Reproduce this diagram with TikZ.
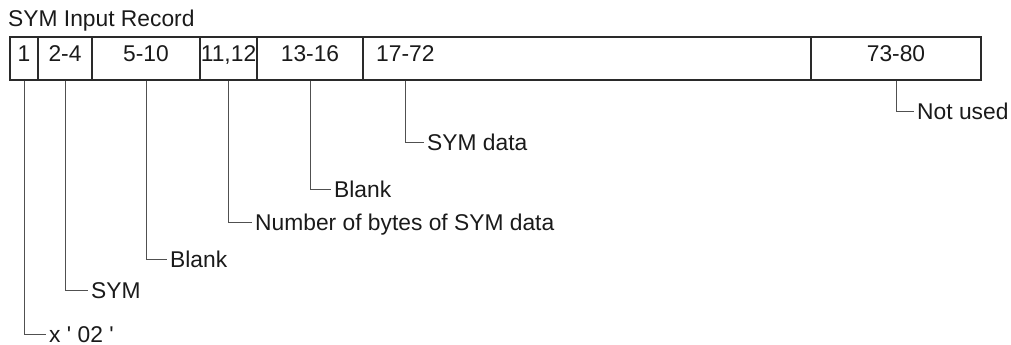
\documentclass[tikz,border=0pt]{standalone}
\usepackage{fontspec}
\setmainfont{Liberation Sans}[Ligatures=TeXOff]
\definecolor{boxc}{HTML}{2A2A2A}
\definecolor{leadc}{HTML}{505050}
\definecolor{txtc}{HTML}{1A1A1A}
\begin{document}
\begin{tikzpicture}[x=1pt,y=-1pt,
  txt/.style={text=txtc, font=\fontsize{22.8}{24}\selectfont},
  cell/.style={txt, draw=boxc, line width=1.2pt, minimum height=43pt, inner sep=0pt, text height=15pt, text depth=10pt},
  lab/.style={txt, anchor=west, inner xsep=3pt, inner ysep=0pt, text height=16pt, text depth=0pt},
  lead/.style={draw=leadc, line width=0.9pt}]
\useasboundingbox (0,0) rectangle (1011,345);
\node[txt, anchor=base west, inner sep=0pt] (title) at (8,27) {SYM Input Record};
% cells
\node[cell, minimum width=28pt]  (c1) at (24,58.5)  {1};
\node[cell, minimum width=54pt]  (c2) at (65,58.5)  {2-4};
\node[cell, minimum width=108pt] (c3) at (146,58.5) {5-10};
\node[cell, minimum width=57pt]  (c4) at (228.5,58.5) {11,12};
\node[cell, minimum width=106pt] (c5) at (310,58.5) {13-16};
\node[cell, minimum width=448pt] (c6) at (587,58.5) {};
\node[cell, minimum width=170pt] (c7) at (896,58.5) {73-80};
\node[txt, anchor=base west, inner sep=0pt] (t6) at (376,61) {17-72};
% labels
\node[lab] (l1) at (46,334)  {x ' 02 '};
\node[lab] (l2) at (88,290)  {SYM};
\node[lab] (l3) at (167,259) {Blank};
\node[lab] (l4) at (252,222) {Number of bytes of SYM data};
\node[lab] (l5) at (331,189) {Blank};
\node[lab] (l6) at (424,142) {SYM data};
\node[lab] (l7) at (914,111) {Not used};
% leaders
\draw[lead] (c1.south) |- (l1.west);
\draw[lead] (c2.south) |- (l2.west);
\draw[lead] (c3.south) |- (l3.west);
\draw[lead] (c4.south) |- (l4.west);
\draw[lead] (c5.south) |- (l5.west);
\draw[lead] (c6.south -| t6.south) |- (l6.west);
\draw[lead] (c7.south) |- (l7.west);
\end{tikzpicture}
\end{document}
